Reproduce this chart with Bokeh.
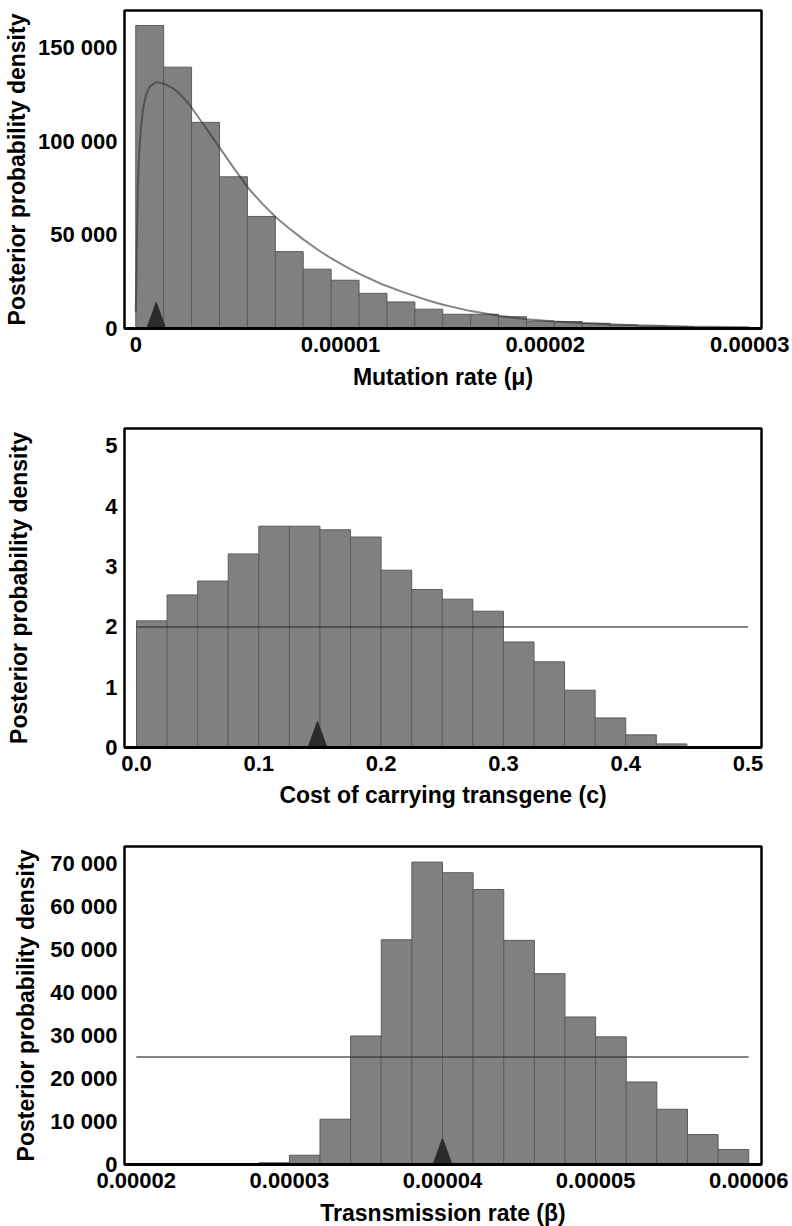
import numpy as np
from bokeh.plotting import figure
from bokeh.layouts import column
from bokeh.models import Range1d, FixedTicker
from bokeh.embed import file_html
from bokeh.resources import INLINE

# ---------------- Panel 1: mutation rate ----------------
mu_bin_edges = np.linspace(0.0, 3e-5, 23)
mu_density = [162000, 139700, 110200, 81100, 59900, 41100, 31700, 25800, 18800, 14200,
              10300, 7600, 7600, 6300, 4000, 3700, 2800, 1900, 1300, 900, 600, 400]
mu_prior_x = [0.0, 0.03e-6, 0.06e-6, 0.1e-6, 0.16e-6, 0.25e-6, 0.35e-6, 0.5e-6, 0.7e-6,
              1.0e-6, 1.4e-6, 1.8e-6, 2.1e-6, 2.6e-6, 3.25e-6, 4.14e-6, 4.8e-6, 5.5e-6,
              6.2e-6, 6.87e-6, 7.5e-6, 8.2e-6, 9.0e-6, 9.58e-6, 10.3e-6, 10.93e-6,
              12.0e-6, 13.0e-6, 13.64e-6, 14.3e-6, 15.02e-6, 16.37e-6, 17.73e-6,
              19.11e-6, 20.46e-6, 21.8e-6, 23.0e-6, 24.5e-6, 27.0e-6, 30.0e-6]
mu_prior_y = [8700, 25000, 50000, 75000, 92000, 107000, 117000, 125000, 129500,
              131700, 130800, 128500, 126000, 120000, 110000, 96000, 85600, 75000,
              66500, 59200, 53500, 47500, 41300, 37300, 32800, 29200,
              23800, 19700, 17300, 15000, 12700, 9300, 6800,
              5000, 3750, 2900, 2300, 1700, 1100, 700]
mu_true = 1.0e-6
mu_xticks = [0.0, 1e-5, 2e-5, 3e-5]
mu_xtick_labels = ["0", "0.00001", "0.00002", "0.00003"]
mu_yticks = [0, 50000, 100000, 150000]
mu_ytick_labels = ["0", "50 000", "100 000", "150 000"]

# ---------------- Panel 2: cost of carrying transgene ----------------
c_bin_edges = np.linspace(0.0, 0.45, 19)
c_density = [2.10, 2.53, 2.76, 3.21, 3.67, 3.67, 3.61, 3.49, 2.94, 2.62,
             2.46, 2.26, 1.75, 1.42, 0.95, 0.49, 0.21, 0.06]
c_prior_lo, c_prior_hi, c_prior_density = 0.0, 0.5, 2.0
c_true = 0.148
c_xticks = [0.0, 0.1, 0.2, 0.3, 0.4, 0.5]
c_xtick_labels = ["0.0", "0.1", "0.2", "0.3", "0.4", "0.5"]
c_yticks = [0, 1, 2, 3, 4, 5]
c_ytick_labels = ["0", "1", "2", "3", "4", "5"]

# ---------------- Panel 3: transmission rate ----------------
beta_bin_edges = np.linspace(2e-5, 6e-5, 21)
beta_density = [0, 0, 0, 0, 400, 2160, 10530, 29900, 52300, 70370,
                67900, 64000, 52160, 44400, 34330, 29700, 19200, 12860, 6970, 3490]
beta_prior_lo, beta_prior_hi, beta_prior_density = 2e-5, 6e-5, 25000
beta_true = 4.0e-5
beta_xticks = [2e-5, 3e-5, 4e-5, 5e-5, 6e-5]
beta_xtick_labels = ["0.00002", "0.00003", "0.00004", "0.00005", "0.00006"]
beta_yticks = [0, 10000, 20000, 30000, 40000, 50000, 60000, 70000]
beta_ytick_labels = ["0", "10 000", "20 000", "30 000", "40 000", "50 000", "60 000", "70 000"]

FONT = "Liberation Sans"
BAR_FILL = "#808080"
BAR_LINE = "#5c5c5c"
PRIOR_COLOR = "#333333"
TRI_COLOR = "#2b2b2b"
FRAME_W = 639


def make_panel(height, border_bottom, xr, yr, xticks, xlabels, yticks, ylabels,
               xtitle, ystandoff, xlab_standoff, xtitle_standoff):
    p = figure(width=792, height=height, x_range=Range1d(*xr), y_range=Range1d(*yr),
               output_backend="svg", toolbar_location=None,
               min_border_left=122, min_border_right=31,
               min_border_top=10, min_border_bottom=border_bottom)
    p.grid.visible = False
    p.background_fill_color = "white"
    p.border_fill_color = "white"
    p.outline_line_color = "black"
    p.outline_line_width = 2.5
    for ax in (p.xaxis[0], p.yaxis[0]):
        ax.major_tick_line_color = None
        ax.minor_tick_line_color = None
        ax.major_tick_out = 0
        ax.major_tick_in = 0
        ax.minor_tick_out = 0
        ax.minor_tick_in = 0
        ax.major_label_text_font = FONT
        ax.major_label_text_font_style = "bold"
        ax.major_label_text_font_size = "22px"
        ax.major_label_text_color = "black"
        ax.major_label_text_line_height = 1.0
        ax.axis_label_text_font = FONT
        ax.axis_label_text_font_style = "bold"
        ax.axis_label_text_font_size = "23px"
        ax.axis_label_text_color = "black"
        ax.axis_label_text_line_height = 1.0
    p.xaxis[0].axis_line_color = "black"
    p.xaxis[0].axis_line_width = 3
    p.yaxis[0].axis_line_color = None
    p.xaxis[0].ticker = FixedTicker(ticks=xticks)
    p.xaxis[0].major_label_overrides = {t: l for t, l in zip(xticks, xlabels)}
    p.yaxis[0].ticker = FixedTicker(ticks=yticks)
    p.yaxis[0].major_label_overrides = {t: l for t, l in zip(yticks, ylabels)}
    p.xaxis[0].major_label_standoff = xlab_standoff
    p.yaxis[0].major_label_standoff = 7
    p.xaxis[0].axis_label = xtitle
    p.xaxis[0].axis_label_standoff = xtitle_standoff
    p.yaxis[0].axis_label = "Posterior probability density"
    p.yaxis[0].axis_label_standoff = ystandoff
    return p


def add_bars(p, edges, dens):
    edges = np.asarray(edges)
    p.quad(left=edges[:-1], right=edges[1:], bottom=0, top=dens,
           fill_color=BAR_FILL, line_color=BAR_LINE, line_width=1)


def add_marker(p, xval, xr, yr, frame_h):
    # tall dark triangle sitting on the x axis at the true value
    hw = 9.5 * (xr[1] - xr[0]) / FRAME_W
    h = 26 * (yr[1] - yr[0]) / frame_h
    p.patch(x=[xval - hw, xval, xval + hw], y=[0, h, 0], fill_color=TRI_COLOR,
            line_color=TRI_COLOR, line_width=1)


# Panel 1  (frame 318 px tall)
xr1, yr1 = (-5.5e-7, 3.057e-5), (0, 170000)
p1 = make_panel(418, 90, xr1, yr1, mu_xticks, mu_xtick_labels, mu_yticks, mu_ytick_labels,
                "Mutation rate (\u03bc)", 5, 8, 9)
add_bars(p1, mu_bin_edges, mu_density)
p1.line(mu_prior_x, mu_prior_y, line_color=PRIOR_COLOR, line_alpha=0.6, line_width=2)
add_marker(p1, mu_true, xr1, yr1, 318)

# Panel 2  (frame 319 px tall)
xr2, yr2 = (-0.0098, 0.511), (0, 5.29)
p2 = make_panel(418, 89, xr2, yr2, c_xticks, c_xtick_labels, c_yticks, c_ytick_labels,
                "Cost of carrying transgene (c)", 70, 8, 8)
add_bars(p2, c_bin_edges, c_density)
p2.line([c_prior_lo, c_prior_hi], [c_prior_density, c_prior_density],
        line_color=PRIOR_COLOR, line_alpha=0.6, line_width=2)
add_marker(p2, c_true, xr2, yr2, 319)

# Panel 3  (frame 318 px tall)
xr3, yr3 = (1.9232e-5, 6.0833e-5), (0, 74000)
p3 = make_panel(410, 82, xr3, yr3, beta_xticks, beta_xtick_labels, beta_yticks, beta_ytick_labels,
                "Trasnsmission rate (\u03b2)", 8, 8, 9)
add_bars(p3, beta_bin_edges, beta_density)
p3.line([beta_prior_lo, beta_prior_hi], [beta_prior_density, beta_prior_density],
        line_color=PRIOR_COLOR, line_alpha=0.6, line_width=2)
add_marker(p3, beta_true, xr3, yr3, 318)

layout = column(p1, p2, p3, styles={"margin-bottom": "-20px"})
open("out.html", "w").write(file_html(layout, INLINE))
